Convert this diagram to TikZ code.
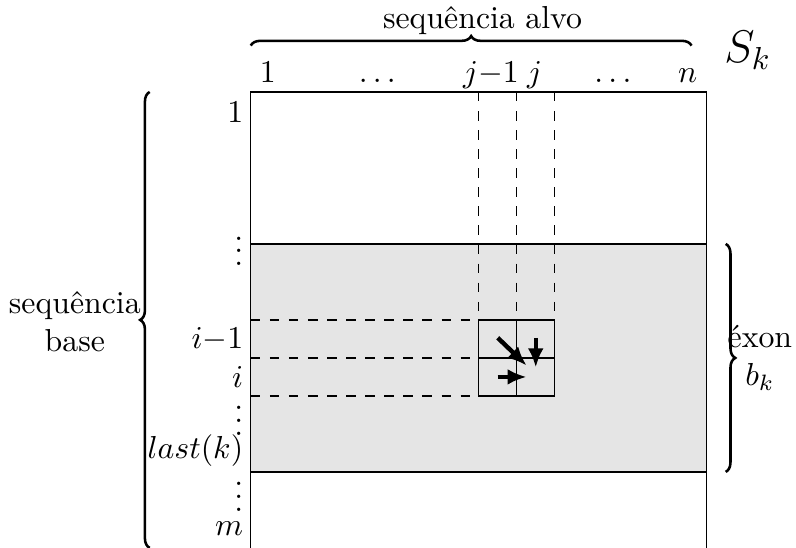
\documentclass[tikz,border=0pt]{standalone}
\usepackage{amsmath}
\usepackage{amssymb}
\usetikzlibrary{positioning,decorations.pathreplacing,arrows.meta}

\tikzset{
  rowlab/.style={anchor=east, inner sep=1pt},
  collab/.style={anchor=base, inner sep=1pt},
  chave/.style={decorate, decoration={brace, amplitude=3pt}, thick},
  passo/.style={-{Latex[length=6pt, width=5pt]}, line width=1.4pt}
}

\begin{document}
\begin{tikzpicture}[x=0.42cm, y=0.42cm]
  \useasboundingbox (-6.6,-12) rectangle (14.35,2.42);
  % faixa do exon
  \fill[gray!20] (0,-4) rectangle (12,-10);
  \draw (0,-12) -- (0,0) -- (12,0) -- (12,-12);
  \draw (0,-4) -- (12,-4);
  \draw (0,-10) -- (12,-10);
  % linhas tracejadas
  \foreach \c in {6,7,8} \draw[dashed] (\c,0) -- (\c,-6);
  \foreach \r in {6,7,8} \draw[dashed] (0,-\r) -- (6,-\r);
  % celula
  \draw (6,-6) rectangle (8,-8);
  \draw (7,-6) -- (7,-8);
  \draw (6,-7) -- (8,-7);

  % colunas
  \node[collab] (c1) at (0.45,0.24) {$1$};
  \node[collab] (cd1) at (3.4,0.24) {$\dots$};
  \node[collab] (cjm) at (6.32,0.24) {$j{-}1$};
  \node[collab] (cj) at (7.47,0.24) {$j$};
  \node[collab] (cd2) at (9.6,0.24) {$\dots$};
  \node[collab] (cn) at (11.5,0.24) {$n$};
  \node (S) at (13.08,1.1) {\Large $S_k$};

  % linhas
  \node[rowlab] (r1) at (-0.1,-0.53) {$1$};
  \node[rowlab, anchor=base east] (rd1) at (-0.1,-4.57) {$\vdots$};
  \node[rowlab] (rim) at (-0.1,-6.5) {$i{-}1$};
  \node[rowlab] (ri) at (-0.1,-7.5) {$i$};
  \node[rowlab, anchor=base east] (rd2) at (-0.1,-9.03) {$\vdots$};
  \node[rowlab] (rl) at (-0.1,-9.45) {$last(k)$};
  \node[rowlab, anchor=base east] (rd3) at (-0.1,-11.03) {$\vdots$};
  \node[rowlab] (rm) at (-0.1,-11.49) {$m$};

  % chaves
  \coordinate (ta) at (0,1.22);
  \coordinate (tb) at (11.6,1.22);
  \draw[chave] (ta) -- (tb);
  \node (alvo) at (6.1,1.89) {sequência alvo};
  \coordinate (la) at (-2.66,-12);
  \coordinate (lb) at (-2.66,0);
  \draw[chave] (la) -- (lb);
  \node[align=center] (base) at (-4.63,-6.05) {sequência\\base};
  \coordinate (ra) at (12.5,-4);
  \coordinate (rb) at (12.5,-10);
  \draw[chave] (ra) -- (rb);
  \node[align=center] (exon) at (13.4,-7) {éxon\\$b_k$};

  % passos
  \coordinate (d0) at (6.5,-6.47);
  \coordinate (d1) at (7.26,-7.2);
  \coordinate (u0) at (7.5,-6.47);
  \coordinate (u1) at (7.5,-7.25);
  \coordinate (l0) at (6.5,-7.5);
  \coordinate (l1) at (7.26,-7.5);
  \draw[passo] (d0) -- (d1);
  \draw[passo] (u0) -- (u1);
  \draw[passo] (l0) -- (l1);
\end{tikzpicture}
\end{document}
